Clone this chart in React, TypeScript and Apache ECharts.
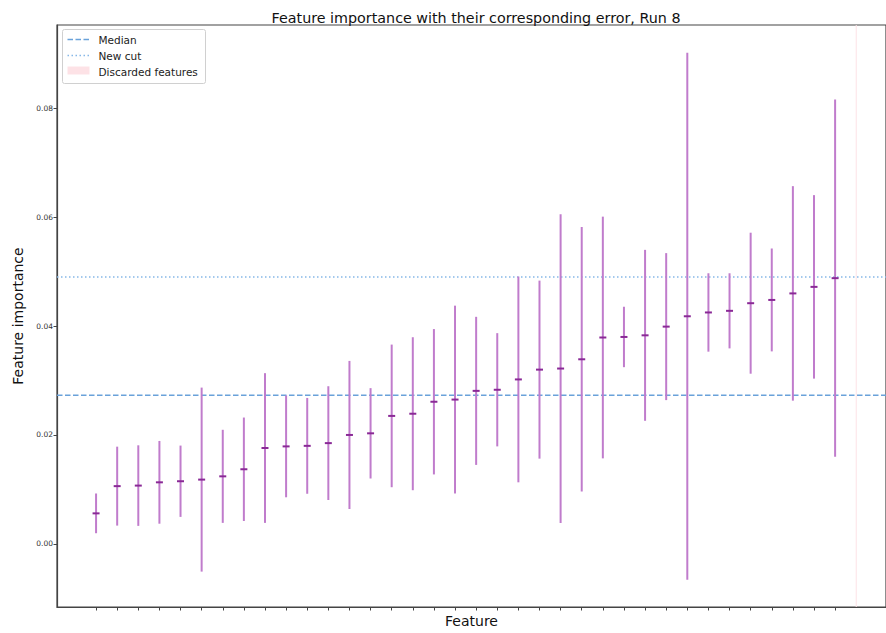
import React, { useEffect, useRef } from "react";
import * as echarts from "echarts";

// Mean feature importance per feature (sorted ascending) and its std error
const importance = [
  0.0056, 0.0106, 0.0107, 0.0113, 0.0115, 0.0118, 0.0124, 0.0137, 0.0176,
  0.0179, 0.018, 0.0185, 0.02, 0.0203, 0.0235, 0.0239, 0.0261, 0.0265,
  0.0281, 0.0283, 0.0302, 0.032, 0.0322, 0.0339, 0.0379, 0.038, 0.0383,
  0.0399, 0.0418, 0.0425, 0.0428, 0.0442, 0.0448, 0.046, 0.0472, 0.0488,
];
const errors = [
  0.00365, 0.00725, 0.0074, 0.0076, 0.00655, 0.0169, 0.00855, 0.0095, 0.01375,
  0.00935, 0.0088, 0.01045, 0.0136, 0.0083, 0.0131, 0.01405, 0.01335, 0.01725,
  0.0136, 0.0104, 0.0189, 0.01635, 0.02835, 0.0243, 0.0222, 0.00555, 0.0157,
  0.0135, 0.0484, 0.0072, 0.0069, 0.01295, 0.00945, 0.0197, 0.01685, 0.0328,
];
const medianValue = 0.0273;
const newCutValue = 0.049;
const discardedStart = 36;
const yTickValues = [0, 0.02, 0.04, 0.06, 0.08];

const X_MIN = -1.85;
const X_MAX = 37.41;
const Y_MIN = -0.0116;
const Y_MAX = 0.0953;

const FONT = "DejaVu Sans";
const BAR_COLOR = "#c07ccc";
const CAP_COLOR = "#8a2996";
const MEDIAN_COLOR = "#6aa2da";
const CUT_COLOR = "#86b8e8";
const SPAN_COLOR = "#fde2e6";

export default function App() {
  const ref = useRef<HTMLDivElement>(null);

  useEffect(() => {
    if (!ref.current) return;
    const chart = echarts.init(ref.current, null, { renderer: "svg" });

    const data = importance.map((v, i) => [i, v, v - errors[i], v + errors[i]]);
    const featureTicks = importance.map((_, i) => i);

    const hLine = (name: string, value: number, color: string, dash: number[]) => ({
      type: "line",
      name,
      data: [
        [X_MIN, value],
        [X_MAX, value],
      ],
      symbol: "none",
      silent: true,
      lineStyle: { color, width: 1.5, type: dash },
      z: 2,
    });

    chart.setOption({
      animation: false,
      backgroundColor: "#ffffff",
      title: {
        text: "Feature importance with their corresponding error, Run 8",
        left: 471,
        top: 6,
        textAlign: "center",
        textStyle: { fontFamily: FONT, fontSize: 14.3, fontWeight: "normal", color: "#111" },
      },
      grid: {
        left: 57,
        top: 25,
        width: 830,
        height: 583,
        show: true,
        borderColor: "#444",
        borderWidth: 1.2,
        backgroundColor: "transparent",
      },
      xAxis: {
        type: "value",
        min: X_MIN,
        max: X_MAX,
        name: "Feature",
        nameLocation: "middle",
        nameGap: 7,
        nameTextStyle: { fontFamily: FONT, fontSize: 14, color: "#111", verticalAlign: "top" },
        splitLine: { show: false },
        axisLine: { show: true, onZero: false, lineStyle: { color: "#444", width: 1.2 } },
        axisTick: {
          show: true,
          length: 3.5,
          customValues: featureTicks,
          lineStyle: { color: "#444", width: 1 },
        },
        axisLabel: { show: false },
      },
      yAxis: {
        type: "value",
        min: Y_MIN,
        max: Y_MAX,
        name: "Feature importance",
        nameLocation: "middle",
        nameGap: 30,
        nameTextStyle: { fontFamily: FONT, fontSize: 14, color: "#111" },
        splitLine: { show: false },
        axisLine: { show: true, onZero: false, lineStyle: { color: "#444", width: 1.2 } },
        axisTick: {
          show: true,
          length: 3.5,
          customValues: yTickValues,
          lineStyle: { color: "#444", width: 1 },
        },
        axisLabel: {
          customValues: yTickValues,
          formatter: (v: number) => v.toFixed(2),
          fontFamily: FONT,
          fontSize: 7.5,
          color: "#333",
          margin: 4,
        },
      },
      series: [
        hLine("Median", medianValue, MEDIAN_COLOR, [5.5, 2.5]),
        hLine("New cut", newCutValue, CUT_COLOR, [1.5, 2.5]),
        {
          type: "line",
          name: "Discarded features",
          data: [
            [discardedStart, Y_MIN],
            [discardedStart, Y_MAX],
          ],
          symbol: "none",
          silent: true,
          lineStyle: { color: SPAN_COLOR, width: 1 },
          z: 1,
        },
        {
          type: "custom",
          name: "Importance",
          data,
          encode: { x: 0, y: [1, 2, 3] },
          clip: false,
          renderItem: (_params: any, api: any) => {
            const x = api.value(0);
            const c = api.value(1);
            const lo = api.value(2);
            const hi = api.value(3);
            const pLo = api.coord([x, lo]);
            const pHi = api.coord([x, hi]);
            const pC = api.coord([x, c]);
            return {
              type: "group",
              children: [
                {
                  type: "line",
                  shape: { x1: pLo[0], y1: pLo[1], x2: pHi[0], y2: pHi[1] },
                  style: { stroke: BAR_COLOR, lineWidth: 2 },
                },
                {
                  type: "line",
                  shape: { x1: pC[0] - 3.5, y1: pC[1], x2: pC[0] + 3.5, y2: pC[1] },
                  style: { stroke: CAP_COLOR, lineWidth: 2 },
                },
              ],
            };
          },
          z: 3,
        },
      ],
      graphic: [
        {
          type: "group",
          left: 62,
          top: 29,
          children: [
            {
              type: "rect",
              shape: { x: 0, y: 0, width: 143, height: 54, r: 2 },
              style: { fill: "rgba(255,255,255,0.85)", stroke: "#d0d0d0", lineWidth: 1 },
            },
            {
              type: "line",
              shape: { x1: 5, y1: 10, x2: 27, y2: 10 },
              style: { stroke: MEDIAN_COLOR, lineWidth: 1.5, lineDash: [5.5, 2.5] },
            },
            {
              type: "text",
              x: 36,
              y: 10,
              style: { text: "Median", font: `10.5px ${FONT}`, fill: "#222", verticalAlign: "middle" },
            },
            {
              type: "line",
              shape: { x1: 5, y1: 26, x2: 27, y2: 26 },
              style: { stroke: CUT_COLOR, lineWidth: 1.5, lineDash: [1.5, 2.5] },
            },
            {
              type: "text",
              x: 36,
              y: 26,
              style: { text: "New cut", font: `10.5px ${FONT}`, fill: "#222", verticalAlign: "middle" },
            },
            {
              type: "rect",
              shape: { x: 5, y: 37, width: 22, height: 8 },
              style: { fill: SPAN_COLOR },
            },
            {
              type: "text",
              x: 36,
              y: 42,
              style: {
                text: "Discarded features",
                font: `10.5px ${FONT}`,
                fill: "#222",
                verticalAlign: "middle",
              },
            },
          ],
        },
      ],
    });

    return () => chart.dispose();
  }, []);

  return (
    <div
      ref={ref}
      style={{ position: "fixed", left: 0, top: 0, width: 886, height: 633, background: "#fff" }}
    />
  );
}
